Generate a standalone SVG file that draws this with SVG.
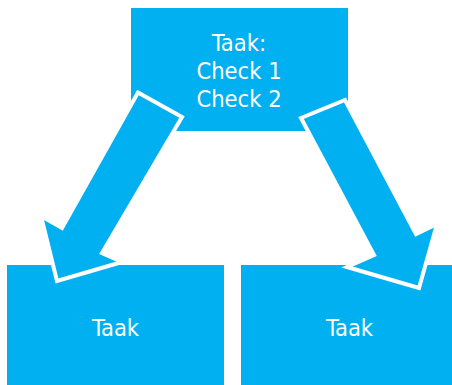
<svg xmlns="http://www.w3.org/2000/svg" width="452" height="385" viewBox="0 0 452 385">
<style>
.box{fill:#00B0F0;}
.lbl{font-family:"DejaVu Sans Condensed","DejaVu Sans",sans-serif;font-stretch:condensed;font-size:23.5px;fill:#FFFFFF;text-anchor:middle;}
.arr{fill:#00B0F0;stroke:#FFFFFF;stroke-width:4;stroke-linejoin:miter;stroke-miterlimit:10;}
</style>
<rect width="452" height="385" fill="#FFFFFF"/>
<g id="node-top">
<rect class="box" x="131" y="8" width="217" height="123"/>
<text class="lbl" x="239" y="51">Taak:</text>
<text class="lbl" x="239" y="79">Check 1</text>
<text class="lbl" x="239" y="107">Check 2</text>
</g>
<g id="node-left">
<rect class="box" x="7" y="265" width="217" height="125"/>
<text class="lbl" x="115.5" y="336">Taak</text>
</g>
<g id="node-right">
<rect class="box" x="241" y="265" width="219" height="125"/>
<text class="lbl" x="349.5" y="336">Taak</text>
</g>
<g id="connectors">
<polygon class="arr" points="138,92.5 182,117 102,253 122,262 57,281 41,216 62,228"/>
<polygon class="arr" points="301,118 345,100 416,234 437,224 419,288 347,267 374,255"/>
</g>
</svg>
